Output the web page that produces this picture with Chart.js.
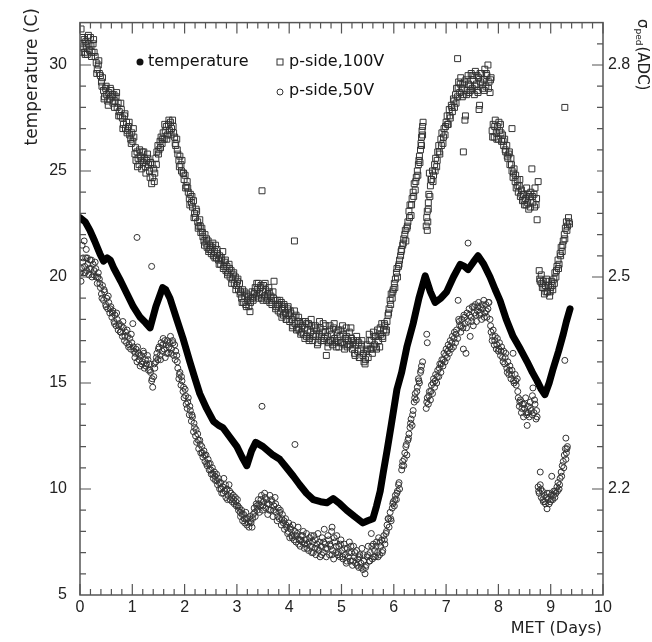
<!DOCTYPE html>
<html lang="en">
<head>
<meta charset="UTF-8" />
<title>Temperature and pedestal width vs MET</title>
<script src="https://cdn.jsdelivr.net/npm/chart.js@4.4.1/dist/chart.umd.min.js"></script>
<style>
  html, body { margin: 0; padding: 0; background: #fff; }
  #wrap { width: 652px; height: 642px; }
</style>
</head>
<body>
<div id="wrap"><canvas id="metChart" width="652" height="642"></canvas></div>
<script>
// axis ticks
const X_TICKS = [0, 1, 2, 3, 4, 5, 6, 7, 8, 9, 10];
const TEMP_TICKS = [5, 10, 15, 20, 25, 30];
const SIGMA_TICKS = [2.2, 2.5, 2.8];

// temperature (C) vs MET (days)
const TEMPERATURE = [
  [0, 22.8], [0.1, 22.6], [0.19, 22.2], [0.28, 21.7], [0.38, 21.1], [0.45, 20.75], [0.52, 20.9],
  [0.58, 20.8], [0.65, 20.4], [0.78, 19.8], [0.9, 19.2], [1.02, 18.6], [1.15, 18.1], [1.25, 17.85],
  [1.34, 17.6], [1.45, 18.6], [1.58, 19.5], [1.64, 19.4], [1.72, 19.0], [1.85, 18.0], [1.97, 17.1],
  [2.1, 16.0], [2.2, 15.2], [2.29, 14.5], [2.42, 13.8], [2.55, 13.2], [2.65, 13.0], [2.73, 12.9],
  [2.85, 12.5], [3.0, 12.0], [3.1, 11.5], [3.19, 11.1], [3.28, 11.8], [3.36, 12.2], [3.5, 12.0],
  [3.69, 11.6], [3.82, 11.4], [3.95, 11.0], [4.08, 10.6], [4.2, 10.2], [4.33, 9.8], [4.46, 9.5],
  [4.6, 9.4], [4.72, 9.35], [4.84, 9.55], [4.97, 9.3], [5.1, 9.0], [5.25, 8.7], [5.41, 8.4],
  [5.5, 8.5], [5.6, 8.6], [5.67, 9.2], [5.74, 9.9], [5.8, 10.8], [5.87, 11.8], [5.95, 13.0],
  [6.06, 14.7], [6.15, 15.5], [6.25, 16.7], [6.37, 17.8], [6.48, 19.0], [6.6, 20.05], [6.7, 19.3],
  [6.79, 18.8], [6.9, 19.0], [7.01, 19.3], [7.14, 20.0], [7.27, 20.6], [7.35, 20.5], [7.42, 20.35],
  [7.52, 20.7], [7.61, 21.0], [7.72, 20.6], [7.84, 20.0], [7.94, 19.4], [8.03, 18.9], [8.15, 18.0],
  [8.28, 17.2], [8.42, 16.6], [8.55, 16.0], [8.65, 15.5], [8.74, 15.1], [8.82, 14.7], [8.89, 14.45],
  [8.97, 15.0], [9.05, 15.7], [9.15, 16.5], [9.24, 17.3], [9.3, 17.9], [9.37, 18.5]
];

// sigma_ped (ADC), p-side 100V
const P_SIDE_100V = [
  [0.02,2.851],[0.03,2.818],[0.05,2.830],[0.06,2.824],[0.08,2.836],[0.09,2.818],[0.11,2.833],[0.12,2.827],[0.14,2.815],
  [0.15,2.839],[0.17,2.830],[0.18,2.821],[0.2,2.839],[0.21,2.827],[0.23,2.818],[0.25,2.830],[0.27,2.818],[0.29,2.812],
  [0.31,2.803],[0.33,2.794],[0.35,2.800],[0.37,2.788],[0.39,2.785],[0.41,2.776],[0.43,2.782],
  [0.45,2.764],[0.47,2.755],[0.49,2.767],[0.51,2.758],[0.53,2.749],[0.55,2.761],[0.57,2.752],[0.59,2.764],[0.61,2.755],
  [0.63,2.746],[0.65,2.758],[0.67,2.749],[0.69,2.755],[0.71,2.740],[0.73,2.746],[0.75,2.734],[0.77,2.728],[0.79,2.737],
  [0.81,2.725],[0.83,2.716],[0.85,2.728],[0.87,2.710],[0.89,2.719],[0.91,2.707],[0.93,2.713],[0.95,2.701],[0.97,2.695],
  [0.99,2.704],[1.01,2.692],[1.03,2.698],
  [1.05,2.674],[1.07,2.665],[1.09,2.677],[1.11,2.668],[1.13,2.659],[1.15,2.671],[1.17,2.665],[1.19,2.677],[1.21,2.662],
  [1.23,2.668],[1.25,2.656],[1.27,2.665],[1.29,2.674],[1.31,2.659],[1.33,2.650],[1.35,2.662],[1.37,2.632],[1.39,2.641],
  [1.41,2.653],[1.43,2.647],
  [1.45,2.668],[1.47,2.677],[1.49,2.686],[1.51,2.680],[1.53,2.692],[1.55,2.698],[1.57,2.689],[1.59,2.704],[1.61,2.695],
  [1.63,2.707],[1.65,2.713],[1.67,2.701],[1.69,2.716],[1.71,2.707],[1.73,2.719],[1.75,2.710],[1.77,2.722],[1.79,2.704],
  [1.81,2.698],[1.83,2.686],[1.85,2.695],[1.87,2.674],[1.89,2.665],[1.91,2.671],[1.93,2.659],[1.95,2.665],[1.97,2.647],
  [1.99,2.638],[2.01,2.644],[2.03,2.629],[2.05,2.635],[2.07,2.620],[2.09,2.611],[2.11,2.617],[2.13,2.605],[2.15,2.599],
  [2.17,2.608],[2.19,2.590],[2.21,2.584],[2.23,2.593],[2.25,2.578],[2.27,2.572],[2.29,2.581],
  [2.31,2.563],[2.33,2.569],[2.35,2.557],[2.37,2.551],[2.39,2.560],[2.41,2.548],[2.43,2.542],[2.45,2.551],[2.47,2.539],
  [2.49,2.545],[2.51,2.533],[2.53,2.542],[2.55,2.530],[2.57,2.536],[2.59,2.545],[2.61,2.527],[2.63,2.533],[2.65,2.524],
  [2.67,2.530],[2.69,2.518],[2.71,2.524],[2.73,2.536],[2.75,2.515],[2.77,2.521],[2.79,2.509],
  [2.81,2.515],[2.83,2.506],[2.85,2.518],[2.87,2.500],[2.89,2.509],[2.91,2.497],[2.93,2.503],[2.95,2.491],[2.97,2.500],
  [2.99,2.488],[3.01,2.494],[3.03,2.482],[3.05,2.491],
  [3.07,2.479],[3.09,2.470],[3.11,2.482],[3.13,2.464],[3.15,2.473],[3.17,2.461],[3.19,2.476],[3.21,2.467],[3.23,2.458],
  [3.25,2.451],[3.27,2.470],[3.29,2.479],[3.31,2.467],[3.33,2.476],
  [3.35,2.485],[3.37,2.473],[3.39,2.482],[3.41,2.491],[3.43,2.476],[3.45,2.485],[3.47,2.470],[3.48,2.622],[3.49,2.479],
  [3.51,2.488],[3.53,2.473],[3.55,2.482],[3.57,2.467],[3.59,2.476],[3.61,2.485],[3.63,2.464],[3.65,2.473],[3.67,2.461],
  [3.69,2.479],[3.71,2.494],[3.73,2.467],
  [3.75,2.458],[3.77,2.467],[3.79,2.452],[3.81,2.461],[3.83,2.449],[3.85,2.464],[3.87,2.455],[3.89,2.446],[3.91,2.458],
  [3.93,2.449],[3.95,2.440],[3.97,2.455],[3.99,2.446],[4.01,2.437],[4.03,2.449],[4.05,2.440],[4.07,2.431],[4.09,2.443],
  [4.1,2.551],[4.11,2.434],[4.13,2.446],[4.15,2.428],[4.17,2.437],[4.19,2.425],[4.21,2.434],[4.23,2.422],
  [4.25,2.431],[4.27,2.419],[4.29,2.428],[4.31,2.437],[4.33,2.416],[4.35,2.425],[4.37,2.434],[4.39,2.413],[4.41,2.422],
  [4.43,2.431],[4.45,2.410],[4.47,2.419],[4.49,2.428],[4.51,2.416],[4.53,2.425],[4.55,2.407],[4.57,2.419],[4.59,2.428],
  [4.61,2.410],[4.63,2.422],[4.65,2.434],[4.67,2.413],[4.69,2.422],[4.71,2.389],
  [4.73,2.416],[4.75,2.407],[4.77,2.425],[4.79,2.410],[4.81,2.419],[4.83,2.404],[4.85,2.428],[4.87,2.413],[4.89,2.407],
  [4.91,2.422],[4.93,2.410],[4.95,2.401],[4.97,2.416],[4.99,2.425],[5.01,2.407],[5.03,2.419],[5.05,2.404],[5.07,2.413],
  [5.09,2.428],[5.11,2.401],[5.13,2.410],[5.15,2.422],[5.17,2.404],[5.19,2.413],
  [5.21,2.398],[5.23,2.410],[5.25,2.392],[5.27,2.404],[5.29,2.416],[5.31,2.395],[5.33,2.407],[5.35,2.386],[5.37,2.398],
  [5.39,2.410],[5.41,2.389],[5.43,2.380],[5.45,2.377],[5.47,2.395],[5.49,2.404],[5.51,2.386],[5.53,2.419],[5.55,2.398],
  [5.57,2.410],[5.59,2.392],[5.61,2.422],[5.63,2.404],[5.65,2.416],[5.67,2.398],[5.69,2.425],[5.71,2.410],[5.73,2.401],
  [5.75,2.419],[5.77,2.434],[5.79,2.413],[5.81,2.425],[5.83,2.431],[5.85,2.422],[5.87,2.437],
  [5.89,2.446],[5.91,2.455],[5.93,2.467],[5.95,2.476],[5.97,2.470],[5.99,2.482],[6.01,2.491],[6.03,2.497],[6.05,2.506],
  [6.07,2.500],[6.09,2.515],[6.11,2.524],[6.13,2.530],[6.15,2.539],[6.17,2.545],
  [6.19,2.554],[6.21,2.560],[6.23,2.551],[6.25,2.569],[6.27,2.578],[6.29,2.593],[6.31,2.602],[6.33,2.587],[6.35,2.611],
  [6.37,2.620],[6.39,2.632],[6.41,2.623],[6.43,2.641],[6.45,2.650],[6.47,2.659],[6.49,2.671],[6.5,2.662],[6.51,2.680],
  [6.52,2.689],[6.53,2.698],[6.54,2.707],[6.55,2.713],[6.56,2.719],
  [6.62,2.572],[6.63,2.584],[6.64,2.593],[6.65,2.578],[6.66,2.605],[6.67,2.617],[6.68,2.647],[6.7,2.629],[6.72,2.638],
  [6.74,2.650],[6.76,2.644],[6.78,2.659],[6.8,2.668],[6.82,2.656],[6.84,2.677],[6.86,2.686],[6.88,2.674],[6.9,2.695],
  [6.92,2.704],[6.94,2.689],[6.96,2.710],[6.98,2.701],[7.0,2.719],[7.02,2.728],[7.04,2.716],[7.06,2.737],[7.08,2.725],
  [7.1,2.743],[7.12,2.734],[7.14,2.752],[7.16,2.740],[7.18,2.758],
  [7.2,2.767],[7.22,2.809],[7.22,2.755],[7.24,2.776],[7.26,2.761],[7.28,2.782],[7.3,2.767],[7.32,2.773],[7.33,2.677],
  [7.34,2.758],[7.36,2.722],[7.37,2.728],[7.38,2.779],[7.4,2.764],[7.42,2.785],[7.44,2.761],[7.46,2.770],[7.48,2.788],
  [7.5,2.767],[7.52,2.779],[7.54,2.758],[7.56,2.791],[7.58,2.773],[7.6,2.764],[7.62,2.782],[7.63,2.737],[7.64,2.743],
  [7.66,2.776],[7.68,2.788],[7.7,2.767],[7.72,2.779],[7.74,2.794],[7.76,2.770],[7.78,2.785],[7.8,2.800],[7.82,2.776],
  [7.84,2.761],[7.86,2.782],
  [7.88,2.707],[7.9,2.716],[7.92,2.698],[7.94,2.722],[7.96,2.704],[7.98,2.713],[8.0,2.695],[8.02,2.707],[8.04,2.716],
  [8.06,2.692],[8.08,2.701],[8.1,2.686],[8.12,2.695],
  [8.14,2.677],[8.16,2.686],[8.18,2.668],[8.2,2.674],[8.22,2.659],[8.24,2.668],[8.26,2.710],[8.26,2.650],[8.28,2.641],
  [8.3,2.653],[8.32,2.635],[8.34,2.626],[8.36,2.638],[8.38,2.620],[8.4,2.629],[8.42,2.614],[8.44,2.623],[8.46,2.608],
  [8.48,2.617],[8.5,2.602],[8.52,2.611],[8.54,2.626],[8.56,2.605],[8.58,2.596],[8.6,2.614],[8.62,2.620],[8.64,2.653],
  [8.66,2.605],[8.68,2.617],[8.7,2.626],[8.72,2.602],[8.74,2.581],[8.76,2.635],
  [8.78,2.509],[8.8,2.494],[8.82,2.503],[8.84,2.485],[8.86,2.494],[8.88,2.476],[8.9,2.488],[8.92,2.497],[8.94,2.479],
  [8.96,2.488],[8.98,2.473],[9.0,2.485],[9.02,2.494],[9.04,2.482],[9.06,2.497],[9.08,2.506],[9.1,2.500],[9.12,2.515],
  [9.14,2.524],[9.16,2.518],[9.18,2.533],[9.2,2.542],[9.22,2.536],[9.24,2.551],[9.26,2.560],[9.27,2.740],[9.28,2.569],
  [9.3,2.578],[9.32,2.572],[9.34,2.584],[9.36,2.575],
  // band edges
  [0.04,2.839],[0.1,2.815],[0.16,2.842],[0.22,2.812],[0.26,2.836],[0.32,2.788],[0.36,2.806],[0.42,2.770],[0.46,2.752],
  [0.5,2.770],[0.54,2.743],[0.58,2.767],[0.62,2.758],[0.66,2.740],[0.7,2.761],[0.74,2.728],[0.78,2.746],[0.82,2.710],
  [0.86,2.731],[0.9,2.704],[0.94,2.719],[0.98,2.689],[1.02,2.710],[1.06,2.683],[1.1,2.656],[1.14,2.680],[1.18,2.653],
  [1.22,2.677],[1.26,2.647],[1.3,2.668],[1.34,2.641],[1.38,2.659],[1.42,2.635],[1.46,2.659],[1.5,2.674],[1.54,2.683],
  [1.58,2.695],[1.62,2.716],[1.66,2.695],[1.7,2.722],[1.74,2.701],[1.78,2.713],[1.82,2.689],[1.86,2.680],[1.9,2.656],
  [1.94,2.650],[1.98,2.647],[2.02,2.626],[2.06,2.626],[2.1,2.602],[2.14,2.614],[2.18,2.584],[2.22,2.596],[2.26,2.569],
  [2.3,2.572],[2.34,2.563],[2.38,2.545],[2.42,2.554],[2.46,2.536],[2.5,2.539],[2.54,2.548],[2.58,2.527],[2.62,2.539],
  [2.66,2.518],[2.7,2.527],[2.74,2.512],[2.78,2.524],[2.82,2.503],[2.86,2.512],[2.9,2.491],[2.94,2.506],[2.98,2.482],
  [3.02,2.497],[3.06,2.476],[3.1,2.464],[3.14,2.479],[3.18,2.458],[3.22,2.473],[3.26,2.464],[3.3,2.470],[3.34,2.479],
  [3.38,2.491],[3.42,2.470],[3.46,2.488],[3.5,2.467],[3.54,2.491],[3.58,2.470],[3.62,2.479],[3.66,2.467],[3.7,2.470],
  [3.74,2.455],[3.78,2.461],[3.82,2.467],[3.86,2.443],[3.9,2.461],[3.94,2.440],[3.98,2.458],[4.02,2.452],[4.06,2.428],
  [4.1,2.452],[4.14,2.425],[4.18,2.443],[4.22,2.419],[4.26,2.437],[4.3,2.413],[4.34,2.434],[4.38,2.410],[4.42,2.440],
  [4.46,2.416],[4.5,2.431],[4.54,2.404],[4.58,2.437],[4.62,2.416],[4.66,2.410],[4.7,2.431],[4.74,2.401],[4.78,2.431],
  [4.82,2.410],[4.86,2.434],[4.9,2.401],[4.94,2.425],[4.98,2.407],[5.02,2.431],[5.06,2.398],[5.1,2.416],[5.14,2.404],
  [5.18,2.428],[5.22,2.407],[5.26,2.389],[5.3,2.410],[5.34,2.386],[5.38,2.404],[5.42,2.392],[5.46,2.383],[5.5,2.398],
  [5.54,2.410],[5.58,2.398],[5.62,2.416],[5.66,2.401],[5.7,2.416],[5.74,2.428],[5.78,2.416],[5.82,2.434],[5.86,2.425],
  [5.9,2.449],[5.94,2.461],[5.98,2.479],[6.02,2.485],[6.06,2.512],[6.1,2.518],[6.14,2.536],[6.18,2.548],[6.22,2.566],
  [6.26,2.572],[6.3,2.584],[6.34,2.602],[6.38,2.614],[6.42,2.635],[6.46,2.644],[6.48,2.665],[6.53,2.686],[6.55,2.701],
  [6.64,2.566],[6.66,2.596],[6.69,2.614],[6.71,2.638],[6.75,2.635],[6.79,2.650],[6.83,2.665],[6.87,2.677],[6.91,2.686],
  [6.95,2.698],[6.99,2.713],[7.03,2.716],[7.07,2.728],[7.11,2.740],[7.15,2.749],[7.19,2.746],[7.23,2.767],[7.27,2.773],
  [7.31,2.755],[7.35,2.776],[7.39,2.758],[7.43,2.773],[7.47,2.764],[7.51,2.785],[7.55,2.770],[7.59,2.785],[7.61,2.761],
  [7.65,2.788],[7.69,2.773],[7.73,2.764],[7.77,2.788],[7.81,2.767],[7.85,2.779],[7.89,2.698],[7.93,2.713],[7.97,2.695],
  [8.01,2.719],[8.05,2.704],[8.09,2.692],[8.13,2.680],[8.17,2.671],[8.21,2.677],[8.25,2.659],[8.29,2.647],[8.33,2.644],
  [8.37,2.629],[8.41,2.638],[8.45,2.617],[8.49,2.608],[8.53,2.602],[8.57,2.617],[8.61,2.599],[8.65,2.614],[8.69,2.599],
  [8.73,2.611],[8.79,2.497],[8.83,2.491],[8.87,2.485],[8.91,2.479],[8.95,2.494],[8.99,2.479],[9.03,2.488],[9.07,2.491],
  [9.11,2.509],[9.15,2.512],[9.19,2.530],[9.23,2.545],[9.27,2.554],[9.31,2.566],[9.35,2.578]
];

// sigma_ped (ADC), p-side 50V
const P_SIDE_50V = [
  [0.02,2.494],[0.03,2.512],[0.04,2.545],[0.05,2.521],[0.07,2.506],[0.08,2.551],[0.09,2.515],[0.11,2.527],[0.12,2.539],
  [0.13,2.509],[0.15,2.518],[0.17,2.503],[0.19,2.524],[0.21,2.512],[0.23,2.500],[0.25,2.518],[0.27,2.509],[0.29,2.521],
  [0.31,2.500],[0.33,2.491],[0.35,2.506],[0.37,2.497],
  [0.39,2.485],[0.41,2.476],[0.43,2.488],[0.45,2.467],[0.47,2.479],[0.49,2.461],[0.51,2.470],[0.53,2.455],[0.55,2.464],
  [0.57,2.449],
  [0.59,2.458],[0.61,2.443],[0.63,2.452],[0.65,2.437],[0.67,2.446],[0.69,2.431],[0.71,2.440],[0.73,2.425],[0.75,2.434],
  [0.77,2.422],[0.79,2.431],[0.81,2.416],[0.83,2.428],[0.85,2.410],[0.87,2.422],[0.89,2.407],[0.91,2.416],[0.93,2.401],
  [0.95,2.413],[0.97,2.398],[0.99,2.407],[1.01,2.434],
  [1.03,2.395],[1.05,2.386],[1.07,2.398],[1.09,2.556],[1.09,2.380],[1.11,2.392],[1.13,2.383],[1.15,2.374],[1.17,2.389],
  [1.19,2.380],[1.21,2.395],[1.23,2.371],[1.25,2.383],[1.27,2.377],[1.29,2.389],[1.31,2.368],[1.33,2.377],[1.35,2.365],
  [1.37,2.515],[1.37,2.353],[1.39,2.344],[1.41,2.359],
  [1.43,2.371],[1.45,2.380],[1.47,2.392],[1.49,2.383],[1.51,2.401],[1.53,2.389],[1.55,2.407],[1.57,2.395],[1.59,2.413],
  [1.61,2.398],[1.63,2.386],[1.65,2.404],[1.67,2.410],[1.69,2.392],[1.71,2.407],[1.73,2.416],[1.75,2.398],[1.77,2.410],
  [1.79,2.389],[1.81,2.404],[1.83,2.395],[1.85,2.389],
  [1.87,2.371],[1.89,2.356],[1.91,2.365],[1.93,2.347],[1.95,2.353],[1.97,2.338],[1.99,2.329],[2.01,2.341],[2.03,2.320],
  [2.05,2.314],[2.07,2.329],[2.09,2.305],[2.11,2.311],[2.13,2.296],[2.15,2.302],[2.17,2.281],[2.19,2.287],[2.21,2.275],
  [2.23,2.266],[2.25,2.278],[2.27,2.257],[2.29,2.269],[2.31,2.251],[2.33,2.260],[2.35,2.245],[2.37,2.254],[2.39,2.239],
  [2.41,2.248],[2.43,2.233],[2.45,2.242],[2.47,2.227],[2.49,2.236],[2.51,2.221],[2.53,2.230],[2.55,2.215],[2.57,2.224],
  [2.59,2.212],
  [2.61,2.221],[2.63,2.206],[2.65,2.215],[2.67,2.200],[2.69,2.209],[2.71,2.194],[2.73,2.203],[2.75,2.215],[2.77,2.197],
  [2.79,2.188],[2.81,2.200],[2.83,2.191],[2.85,2.206],[2.87,2.185],[2.89,2.194],[2.91,2.182],[2.93,2.191],[2.95,2.179],
  [2.97,2.188],[2.99,2.176],[3.01,2.185],[3.03,2.170],
  [3.05,2.173],[3.07,2.161],[3.09,2.170],[3.11,2.155],[3.13,2.164],[3.15,2.152],[3.17,2.167],[3.19,2.149],[3.21,2.158],
  [3.23,2.146],[3.25,2.161],[3.27,2.152],[3.29,2.146],
  [3.31,2.164],[3.33,2.173],[3.35,2.161],[3.37,2.179],[3.39,2.170],[3.41,2.185],[3.43,2.167],[3.45,2.176],[3.47,2.191],
  [3.48,2.317],[3.49,2.170],[3.51,2.182],[3.53,2.194],[3.55,2.173],[3.57,2.185],[3.59,2.164],[3.61,2.179],[3.63,2.191],
  [3.65,2.170],[3.67,2.182],[3.69,2.161],[3.71,2.176],[3.73,2.188],[3.75,2.167],[3.77,2.155],[3.79,2.173],[3.81,2.158],
  [3.83,2.170],[3.85,2.149],[3.87,2.164],[3.89,2.152],[3.91,2.143],[3.93,2.158],
  [3.95,2.146],[3.97,2.137],[3.99,2.152],[4.01,2.131],[4.03,2.143],[4.05,2.134],[4.07,2.149],[4.09,2.128],[4.11,2.263],
  [4.11,2.140],[4.13,2.125],[4.15,2.137],[4.17,2.146],[4.19,2.128],[4.21,2.119],[4.23,2.134],[4.25,2.125],[4.27,2.140],
  [4.29,2.116],[4.31,2.128],[4.33,2.137],[4.35,2.122],[4.37,2.113],[4.39,2.131],[4.41,2.119],[4.43,2.110],[4.45,2.125],
  [4.47,2.134],[4.49,2.116],[4.51,2.107],[4.53,2.122],[4.55,2.137],[4.57,2.113],[4.59,2.104],[4.61,2.119],[4.63,2.131],
  [4.65,2.110],[4.67,2.143],[4.69,2.122],[4.71,2.104],[4.73,2.116],[4.75,2.128],[4.77,2.107],[4.79,2.119],[4.81,2.140],
  [4.82,2.146],[4.83,2.113],[4.85,2.101],[4.87,2.125],[4.89,2.110],[4.91,2.134],[4.93,2.107],[4.95,2.119],[4.97,2.104],
  [4.99,2.128],
  [5.01,2.113],[5.03,2.101],[5.05,2.122],[5.07,2.107],[5.09,2.095],[5.11,2.116],[5.13,2.104],[5.15,2.125],[5.17,2.098],
  [5.19,2.110],[5.21,2.092],[5.23,2.119],[5.25,2.104],[5.27,2.095],[5.29,2.113],[5.31,2.101],[5.33,2.089],[5.35,2.107],
  [5.37,2.095],[5.39,2.116],[5.41,2.086],[5.43,2.098],[5.45,2.080],[5.47,2.092],
  [5.49,2.104],[5.51,2.119],[5.53,2.098],[5.55,2.110],[5.57,2.137],[5.59,2.101],[5.61,2.122],[5.63,2.113],[5.65,2.104],
  [5.67,2.125],[5.69,2.110],[5.71,2.131],[5.73,2.107],[5.75,2.119],[5.77,2.128],[5.79,2.113],[5.81,2.134],[5.83,2.122],
  [5.85,2.137],
  [5.87,2.149],[5.89,2.158],[5.91,2.146],[5.93,2.167],[5.95,2.155],[5.97,2.173],[5.99,2.182],[6.01,2.176],[6.03,2.191],
  [6.05,2.185],[6.07,2.197],[6.09,2.206],[6.11,2.200],
  [6.15,2.227],[6.17,2.239],[6.19,2.233],[6.21,2.251],[6.23,2.260],[6.25,2.248],[6.27,2.269],[6.29,2.278],[6.31,2.287],
  [6.33,2.299],[6.35,2.290],[6.37,2.311],[6.39,2.323],[6.41,2.335],[6.43,2.326],[6.45,2.344],[6.47,2.356],[6.49,2.350],
  [6.51,2.365],[6.53,2.374],[6.55,2.380],
  [6.63,2.419],[6.64,2.407],[6.62,2.314],[6.64,2.329],[6.66,2.320],[6.68,2.338],[6.7,2.326],[6.72,2.347],[6.74,2.335],
  [6.76,2.356],[6.78,2.344],[6.8,2.362],[6.82,2.350],[6.84,2.368],[6.86,2.359],[6.88,2.377],
  [6.9,2.365],[6.92,2.383],[6.94,2.374],[6.96,2.392],[6.98,2.380],[7.0,2.398],[7.02,2.386],[7.04,2.404],[7.06,2.392],
  [7.08,2.410],[7.1,2.398],[7.12,2.416],[7.14,2.401],[7.16,2.422],[7.18,2.407],[7.2,2.425],[7.22,2.413],[7.23,2.467],
  [7.24,2.440],[7.26,2.431],
  [7.28,2.422],[7.3,2.440],[7.32,2.428],[7.33,2.398],[7.34,2.446],[7.36,2.434],[7.38,2.392],[7.4,2.449],[7.42,2.548],
  [7.42,2.437],[7.44,2.455],[7.46,2.416],[7.48,2.443],[7.5,2.458],[7.52,2.431],[7.54,2.449],[7.56,2.461],[7.58,2.437],
  [7.6,2.452],[7.62,2.464],[7.64,2.446],[7.66,2.458],[7.68,2.440],[7.7,2.455],[7.72,2.467],[7.74,2.449],[7.76,2.461],
  [7.78,2.443],[7.8,2.455],[7.82,2.464],[7.84,2.440],
  [7.86,2.422],[7.88,2.410],[7.9,2.425],[7.92,2.404],[7.94,2.416],[7.96,2.398],[7.98,2.413],[8.0,2.395],[8.02,2.407],
  [8.04,2.389],[8.06,2.401],[8.08,2.386],[8.1,2.395],[8.12,2.377],[8.14,2.392],
  [8.16,2.371],[8.18,2.380],[8.2,2.362],[8.22,2.374],[8.24,2.356],[8.26,2.368],[8.28,2.392],[8.3,2.350],[8.32,2.362],
  [8.34,2.347],[8.36,2.356],
  [8.38,2.329],[8.4,2.317],[8.42,2.326],[8.44,2.308],[8.46,2.320],[8.48,2.302],[8.5,2.314],[8.52,2.329],[8.54,2.305],
  [8.55,2.290],[8.57,2.317],[8.59,2.302],[8.61,2.323],[8.63,2.311],[8.65,2.332],[8.66,2.343],[8.68,2.308],[8.7,2.320],
  [8.72,2.299],[8.74,2.302],
  [8.76,2.203],[8.78,2.194],[8.8,2.224],[8.8,2.206],[8.82,2.188],[8.84,2.197],[8.86,2.182],[8.88,2.191],[8.9,2.179],
  [8.92,2.188],[8.93,2.172],[8.95,2.185],[8.97,2.194],[8.99,2.182],[9.01,2.191],[9.02,2.218],[9.04,2.185],[9.06,2.197],
  [9.08,2.188],[9.1,2.194],[9.12,2.203],[9.14,2.209],[9.16,2.200],[9.18,2.215],[9.2,2.224],[9.22,2.233],[9.24,2.239],
  [9.26,2.248],[9.27,2.382],[9.28,2.257],[9.29,2.272],[9.3,2.251],[9.32,2.260],
  // band edges
  [0.01,2.506],[0.06,2.527],[0.1,2.506],[0.14,2.527],[0.18,2.512],[0.22,2.524],[0.26,2.503],[0.3,2.512],[0.34,2.500],
  [0.38,2.491],[0.42,2.470],[0.46,2.482],[0.5,2.458],[0.54,2.473],[0.58,2.455],[0.62,2.449],[0.66,2.434],[0.7,2.449],
  [0.74,2.431],[0.78,2.422],[0.82,2.437],[0.86,2.416],[0.9,2.425],[0.94,2.404],[0.98,2.419],[1.02,2.401],[1.06,2.392],
  [1.1,2.401],[1.14,2.389],[1.18,2.377],[1.22,2.392],[1.26,2.374],[1.3,2.383],[1.34,2.368],[1.38,2.356],[1.42,2.377],
  [1.46,2.386],[1.5,2.398],[1.54,2.383],[1.58,2.404],[1.62,2.410],[1.66,2.392],[1.7,2.401],[1.74,2.392],[1.78,2.407],
  [1.82,2.383],[1.86,2.380],[1.9,2.362],[1.94,2.359],[1.98,2.344],[2.02,2.332],[2.06,2.323],[2.1,2.317],[2.14,2.305],
  [2.18,2.293],[2.22,2.284],[2.26,2.269],[2.3,2.263],[2.34,2.251],[2.38,2.248],[2.42,2.236],[2.46,2.236],[2.5,2.227],
  [2.54,2.221],[2.58,2.218],[2.62,2.212],[2.66,2.209],[2.7,2.200],[2.74,2.194],[2.78,2.206],[2.82,2.185],[2.86,2.197],
  [2.9,2.188],[2.94,2.185],[2.98,2.182],[3.02,2.176],[3.06,2.167],[3.1,2.164],[3.14,2.158],[3.18,2.158],[3.22,2.152],
  [3.26,2.155],[3.3,2.158],[3.34,2.167],[3.38,2.176],[3.42,2.179],[3.46,2.185],[3.5,2.176],[3.54,2.188],[3.58,2.179],
  [3.62,2.170],[3.66,2.185],[3.7,2.170],[3.74,2.179],[3.78,2.161],[3.82,2.167],[3.86,2.158],[3.9,2.155],[3.94,2.149],
  [3.98,2.140],[4.02,2.146],[4.06,2.131],[4.1,2.134],[4.14,2.134],[4.18,2.122],[4.22,2.128],[4.26,2.134],[4.3,2.122],
  [4.34,2.116],[4.38,2.125],[4.42,2.134],[4.46,2.110],[4.5,2.128],[4.54,2.116],[4.58,2.125],[4.62,2.107],[4.66,2.125],
  [4.7,2.116],[4.74,2.134],[4.78,2.122],[4.82,2.107],[4.86,2.131],[4.9,2.119],[4.94,2.110],[4.98,2.122],[5.02,2.104],
  [5.06,2.116],[5.1,2.098],[5.14,2.110],[5.18,2.119],[5.22,2.098],[5.26,2.110],[5.3,2.092],[5.34,2.104],[5.38,2.089],
  [5.42,2.107],[5.46,2.089],[5.5,2.107],[5.54,2.098],[5.58,2.119],[5.62,2.104],[5.66,2.119],[5.7,2.104],[5.74,2.125],
  [5.78,2.110],[5.82,2.128],[5.86,2.140],[5.9,2.158],[5.94,2.158],[5.98,2.179],[6.02,2.185],[6.06,2.194],[6.1,2.209],
  [6.16,2.233],[6.2,2.242],[6.24,2.263],[6.28,2.272],[6.32,2.293],[6.36,2.305],[6.4,2.329],[6.44,2.338],[6.48,2.353],
  [6.52,2.368],[6.63,2.323],[6.67,2.332],[6.71,2.338],[6.75,2.350],[6.79,2.353],[6.83,2.359],[6.87,2.371],[6.91,2.377],
  [6.95,2.383],[6.99,2.389],[7.03,2.395],[7.07,2.401],[7.11,2.407],[7.15,2.413],[7.19,2.419],[7.25,2.437],[7.29,2.431],
  [7.35,2.443],[7.39,2.428],[7.45,2.446],[7.49,2.437],[7.53,2.458],[7.57,2.446],[7.61,2.458],[7.65,2.449],[7.69,2.461],
  [7.73,2.443],[7.77,2.452],[7.81,2.464],[7.85,2.431],[7.89,2.416],[7.93,2.410],[7.97,2.404],[8.01,2.398],[8.05,2.395],
  [8.09,2.380],[8.13,2.386],[8.17,2.365],[8.21,2.368],[8.25,2.362],[8.29,2.353],[8.33,2.353],[8.37,2.338],[8.41,2.323],
  [8.45,2.314],[8.49,2.320],[8.53,2.308],[8.57,2.308],[8.61,2.314],[8.65,2.305],[8.69,2.326],[8.73,2.311],[8.77,2.197],
  [8.81,2.200],[8.85,2.185],[8.89,2.182],[8.93,2.194],[8.97,2.179],[9.01,2.185],[9.05,2.191],[9.09,2.197],[9.13,2.197],
  [9.17,2.206],[9.21,2.218],[9.25,2.230],[9.29,2.242],[9.31,2.257]
];

const TEXT = '#222';
const AXIS = '#555';

// frame, inward ticks, legend and axis titles (ROOT-style box)
const frameAndLabels = {
  id: 'frameAndLabels',
  afterDraw(chart) {
    const { ctx, chartArea: a, scales } = chart;
    ctx.save();
    ctx.strokeStyle = AXIS;
    ctx.lineWidth = 1.5;
    ctx.strokeRect(a.left, a.top, a.right - a.left, a.bottom - a.top);

    ctx.lineWidth = 1.2;
    ctx.beginPath();
    for (let i = 0; i <= 50; i++) {
      const px = scales.x.getPixelForValue(i / 5);
      const len = i % 5 === 0 ? 11 : 6;
      ctx.moveTo(px, a.bottom); ctx.lineTo(px, a.bottom - len);
      ctx.moveTo(px, a.top); ctx.lineTo(px, a.top + len);
    }
    for (let t = 6; t <= 31; t++) {
      const py = scales.y.getPixelForValue(t);
      const len = t % 5 === 0 ? 11 : 6;
      ctx.moveTo(a.left, py); ctx.lineTo(a.left + len, py);
    }
    for (let k = -4; k <= 21; k++) {
      const py = scales.y2.getPixelForValue(2.2 + k * 0.03);
      const len = k % 10 === 0 ? 11 : 6;
      ctx.moveTo(a.right, py); ctx.lineTo(a.right - len, py);
    }
    ctx.stroke();

    // legend
    ctx.fillStyle = '#111';
    ctx.font = '16px "DejaVu Sans"';
    ctx.textBaseline = 'middle';
    ctx.textAlign = 'left';
    ctx.beginPath();
    ctx.arc(140, 62, 3.5, 0, Math.PI * 2);
    ctx.fill();
    ctx.fillText('temperature', 148, 62);
    ctx.strokeStyle = '#333';
    ctx.lineWidth = 1;
    ctx.strokeRect(277, 59, 6, 6);
    ctx.fillText('p-side,100V', 289, 62);
    ctx.beginPath();
    ctx.arc(280, 92, 3, 0, Math.PI * 2);
    ctx.stroke();
    ctx.fillText('p-side,50V', 289, 91);

    // axis titles
    ctx.fillStyle = TEXT;
    ctx.font = '17px "DejaVu Sans"';
    ctx.save();
    ctx.translate(33, 8);
    ctx.rotate(-Math.PI / 2);
    ctx.textAlign = 'right';
    ctx.fillText('temperature (C)', 0, 0);
    ctx.restore();

    ctx.font = '16px "DejaVu Sans"';
    ctx.textAlign = 'right';
    ctx.fillText('MET (Days)', 602, 629);

    ctx.save();
    ctx.translate(642, 19);
    ctx.rotate(Math.PI / 2);
    ctx.textAlign = 'left';
    ctx.font = '15px "DejaVu Sans"';
    ctx.fillText('σ', 0, 0);
    const w1 = ctx.measureText('σ').width;
    ctx.font = '9px "DejaVu Sans"';
    ctx.fillText('ped', w1, 4);
    const w2 = ctx.measureText('ped').width;
    ctx.font = '15px "DejaVu Sans"';
    ctx.fillText('(ADC)', w1 + w2 + 1, 0);
    ctx.restore();

    ctx.restore();
  }
};

const tickFont = { family: '"Liberation Sans", Arial, sans-serif', size: 16 };

new Chart(document.getElementById('metChart'), {
  type: 'scatter',
  data: {
    datasets: [
      {
        label: 'temperature',
        type: 'line',
        data: TEMPERATURE.map(([x, y]) => ({ x, y })),
        yAxisID: 'y',
        borderColor: '#000',
        borderWidth: 7,
        borderJoinStyle: 'round',
        borderCapStyle: 'round',
        pointRadius: 0,
        tension: 0,
        fill: false
      },
      {
        label: 'p-side,100V',
        data: P_SIDE_100V.map(([x, y]) => ({ x, y })),
        yAxisID: 'y2',
        pointStyle: 'rect',
        pointRadius: 4.2,
        borderWidth: 1,
        borderColor: '#333',
        backgroundColor: 'rgba(0,0,0,0)'
      },
      {
        label: 'p-side,50V',
        data: P_SIDE_50V.map(([x, y]) => ({ x, y })),
        yAxisID: 'y2',
        pointStyle: 'circle',
        pointRadius: 3,
        borderWidth: 1,
        borderColor: '#333',
        backgroundColor: 'rgba(0,0,0,0)'
      }
    ]
  },
  options: {
    responsive: false,
    animation: false,
    events: [],
    layout: { padding: { top: 9, left: 0, right: 0, bottom: 0 } },
    plugins: { legend: { display: false }, tooltip: { enabled: false } },
    scales: {
      x: {
        type: 'linear',
        min: 0,
        max: 10,
        grid: { display: false, drawTicks: false },
        border: { display: false },
        afterBuildTicks: s => { s.ticks = X_TICKS.map(v => ({ value: v })); },
        afterFit: s => { s.height = 47; },
        ticks: { font: tickFont, color: TEXT, padding: 3, maxRotation: 0 }
      },
      y: {
        type: 'linear',
        position: 'left',
        min: 5,
        max: 32,
        grid: { display: false, drawTicks: false },
        border: { display: false },
        afterBuildTicks: s => { s.ticks = TEMP_TICKS.map(v => ({ value: v })); },
        afterFit: s => { s.width = 80; },
        ticks: { font: tickFont, color: TEXT, padding: 13 }
      },
      y2: {
        type: 'linear',
        position: 'right',
        min: 2.05,
        max: 2.86,
        grid: { display: false, drawTicks: false },
        border: { display: false },
        afterBuildTicks: s => { s.ticks = SIGMA_TICKS.map(v => ({ value: v })); },
        afterFit: s => { s.width = 49; },
        ticks: { font: tickFont, color: TEXT, padding: 5, callback: v => v.toFixed(1) }
      }
    }
  },
  plugins: [frameAndLabels]
});
</script>
</body>
</html>
